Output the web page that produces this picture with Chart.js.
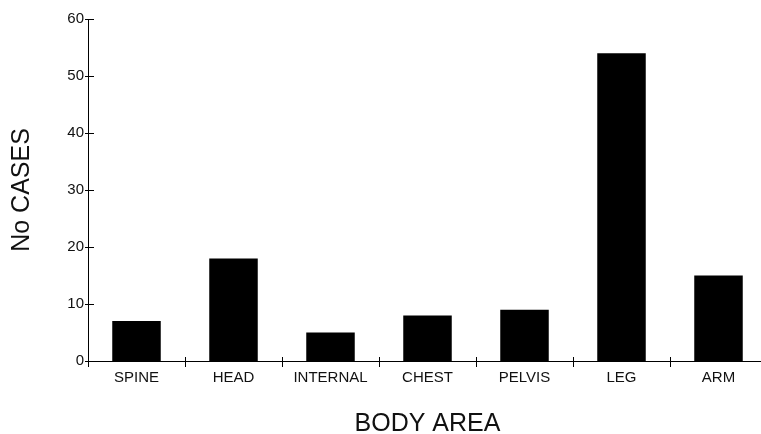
<!DOCTYPE html>
<html>
<head>
<meta charset="utf-8">
<script src="https://cdn.jsdelivr.net/npm/chart.js@4"></script>
<style>
  html, body { margin: 0; padding: 0; overflow: hidden; background: #fff; }
  canvas { display: block; }
</style>
</head>
<body>
<canvas id="chart" width="770" height="434"></canvas>
<script>
const categories = ['SPINE', 'HEAD', 'INTERNAL', 'CHEST', 'PELVIS', 'LEG', 'ARM'];
const cases = [7, 18, 5, 8, 9, 54, 15];
const yTicks = [0, 10, 20, 30, 40, 50, 60];

const FONT = 'Arial, "Liberation Sans", sans-serif';

// small tick marks that cross the axis lines
const crossTicks = {
    id: 'crossTicks',
    afterDraw(chart) {
        const ctx = chart.ctx;
        const x = chart.scales.x;
        const y = chart.scales.y;
        ctx.save();
        ctx.strokeStyle = '#000';
        ctx.lineWidth = 1;
        ctx.beginPath();
        y.ticks.forEach(t => {
            const py = Math.round(y.getPixelForValue(t.value)) + 0.5;
            ctx.moveTo(x.left - 3, py);
            ctx.lineTo(x.left + 6, py);
        });
        const w = x.getPixelForValue(1) - x.getPixelForValue(0);
        for (let i = 0; i <= categories.length; i++) {
            const px = Math.round(x.getPixelForValue(i) - w / 2) + 0.5;
            ctx.moveTo(px, y.bottom - 4);
            ctx.lineTo(px, y.bottom + 6);
        }
        ctx.stroke();
        ctx.restore();
    }
};

const ctx = document.querySelector('#chart').getContext('2d');
const myChart = new Chart(ctx, {
    type: 'bar',
    data: {
        labels: categories,
        datasets: [{
            data: cases,
            backgroundColor: '#000',
            borderWidth: 0,
            barPercentage: 0.5,
            categoryPercentage: 1
        }]
    },
    options: {
        responsive: false,
        animation: false,
        layout: { padding: { top: 19, right: 3, bottom: 0, left: 0 } },
        plugins: {
            legend: { display: false },
            tooltip: { enabled: false }
        },
        scales: {
            x: {
                grid: { display: false, drawTicks: false },
                border: { display: true, color: '#000', width: 1 },
                ticks: {
                    color: '#111',
                    padding: 8,
                    maxRotation: 0,
                    font: { family: FONT, size: 15 }
                },
                title: {
                    display: true,
                    text: 'BODY AREA',
                    color: '#111',
                    padding: 0,
                    font: { family: FONT, size: 25, lineHeight: 0.8 }
                },
                afterFit(scale) { scale.height = 73; }
            },
            y: {
                min: 0,
                max: 60,
                grid: { display: false, drawTicks: false },
                border: { display: true, color: '#000', width: 1 },
                afterBuildTicks(scale) {
                    scale.ticks = yTicks.map(v => ({ value: v }));
                },
                ticks: {
                    color: '#111',
                    padding: 4,
                    font: { family: FONT, size: 15 }
                },
                title: {
                    display: true,
                    text: 'No CASES',
                    color: '#111',
                    padding: { top: 10, bottom: 0 },
                    font: { family: FONT, size: 25, lineHeight: 1 }
                },
                afterFit(scale) { scale.width = 88; }
            }
        }
    },
    plugins: [crossTicks]
});
</script>
</body>
</html>
